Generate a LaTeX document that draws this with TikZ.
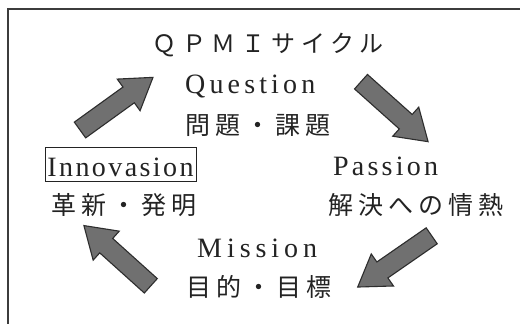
\documentclass[tikz,border=0pt]{standalone}
\usepackage{fontspec}
\setmainfont{Liberation Serif}
\newfontfamily\jpfont[LetterSpace=20]{Noto Sans CJK JP}
\newfontfamily\titlefont[LetterSpace=24]{Noto Sans CJK JP}
\newfontfamily\latfont{Liberation Serif}
\definecolor{arrowgray}{RGB}{112,112,112}
\definecolor{arrowedge}{RGB}{45,45,45}
\definecolor{txt}{RGB}{35,35,35}
\definecolor{framec}{RGB}{60,60,60}
\newcommand{\ls}[2]{{\addfontfeature{LetterSpace=#1}#2}}
\tikzset{
  frameline/.style={line width=1.6pt, draw=framec},
  arrowstyle/.style={fill=arrowgray, draw=arrowedge, line width=1.1pt, line join=miter},
  blockarrow/.pic={\draw[arrowstyle] (0,-9.7) -- (60,-9.7) -- (60,-19.5) -- (90,0) -- (60,19.5) -- (60,9.7) -- (0,9.7) -- cycle;},
  latlabel/.style={inner sep=0pt, anchor=base west, font=\fontsize{28}{32}\selectfont\latfont, text=txt},
  jplabel/.style={inner sep=0pt, font=\fontsize{25}{30}\selectfont\jpfont, text=txt},
  titlelabel/.style={inner sep=0pt, font=\fontsize{24}{28}\selectfont\titlefont, text=txt},
  boxed/.style={anchor=base, draw=txt, line width=1pt, inner xsep=0pt, inner ysep=0pt, minimum width=151pt, text height=28.5pt, text depth=5.5pt},
}
\begin{document}
\begin{tikzpicture}[x=1pt,y=-1pt]
\useasboundingbox (0,0) rectangle (520,324);
\fill[white] (0,0) rectangle (520,324);
% frame (cut at right and bottom)
\coordinate (fr) at (520,9);
\coordinate (fc) at (8,9);
\coordinate (fb) at (8,324);
\draw[frameline] (fr) -- (fc) -- (fb);
% texts
\node[titlelabel] (title) at (268,45) {ＱＰＭＩサイクル};
\node[latlabel] (q) at (185,93) {\ls{14.8}{Question}};
\node[jplabel] (qj) at (258,125) {問題・課題};
\node[latlabel, boxed] (i) at (120.5,176) {\ls{8.6}{Innovasion}};
\node[jplabel] (ij) at (124,205.5) {革新・発明};
\node[latlabel] (p) at (333,175.5) {\ls{11.5}{Passion}};
\node[jplabel] (pj) at (416,205.5) {解決への情熱};
\node[latlabel] (m) at (197,257) {\ls{17.7}{Mission}};
\node[jplabel] (mj) at (259,286.5) {目的・目標};
% block arrows
\path (80,130) pic[rotate=35.8] (a1) {blockarrow};
\path (361,81.7) pic[rotate=-41.8] (a2) {blockarrow};
\path (431.7,235.8) pic[rotate=-145.3] (a3) {blockarrow};
\path (150.8,285.8) pic[rotate=138] (a4) {blockarrow};
\end{tikzpicture}
\end{document}
